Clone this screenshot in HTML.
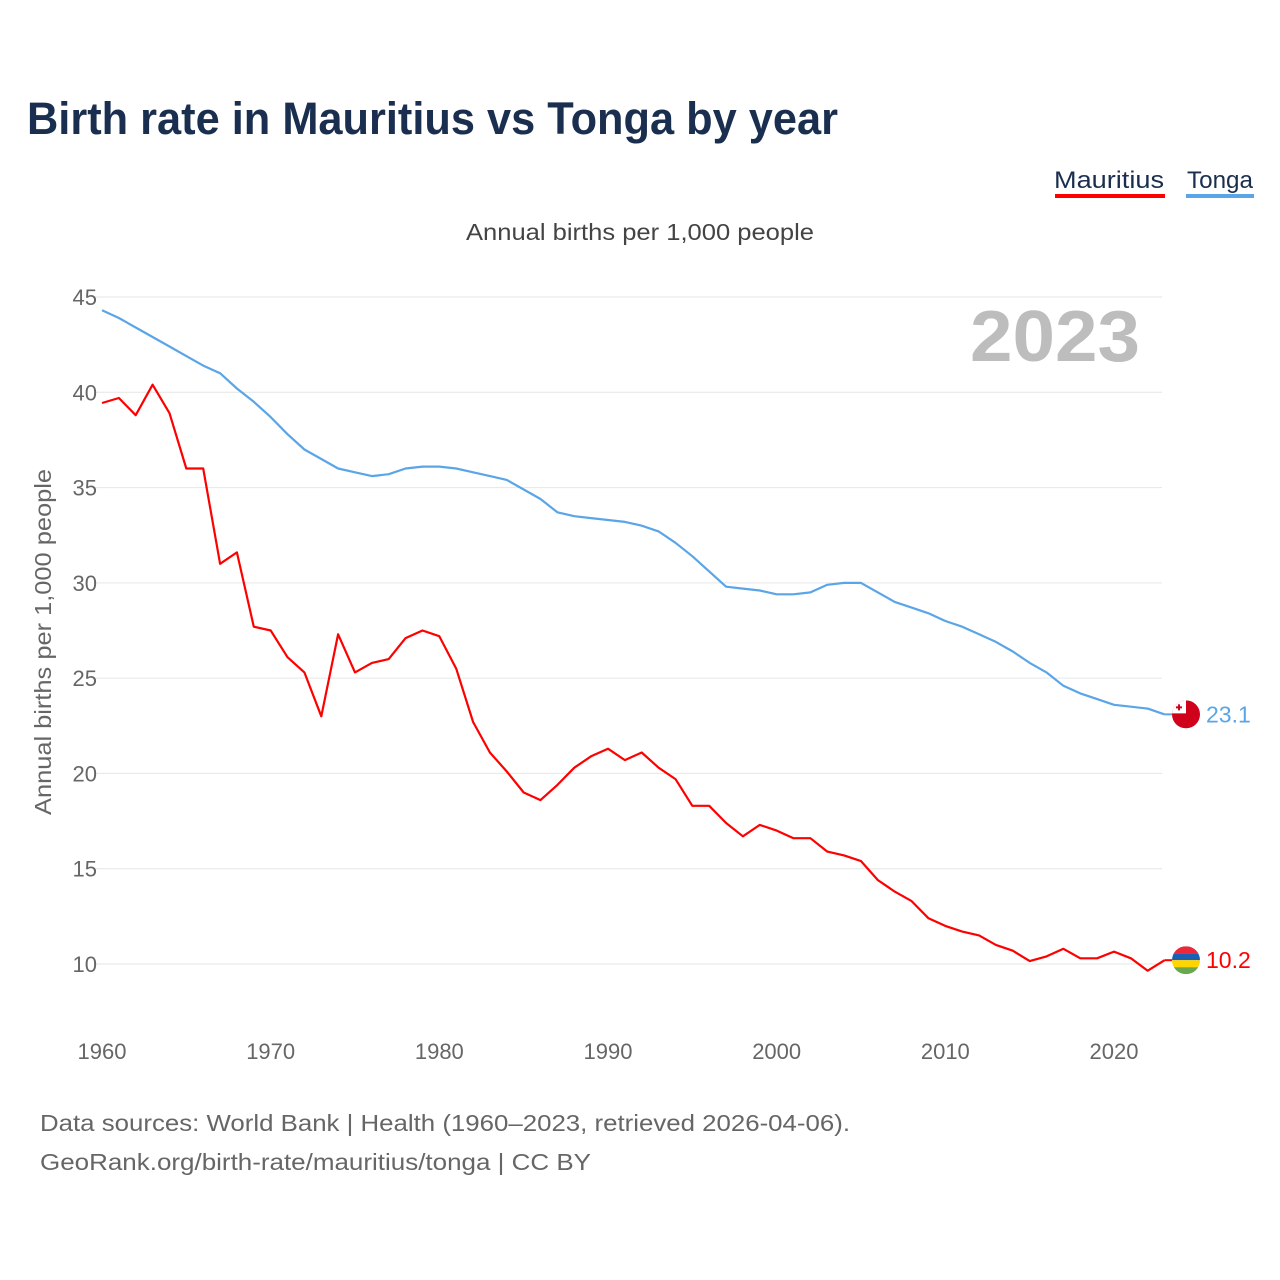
<!DOCTYPE html>
<html><head><meta charset="utf-8"><style>
body{margin:0;background:#fff;font-family:"Liberation Sans",sans-serif;}
#wrap{position:relative;width:1280px;height:1280px;overflow:hidden}
</style></head><body><div id="wrap">
<svg id="chart" width="1280" height="1280" style="font-family:'Liberation Sans',sans-serif">
<text x="27" y="134" font-size="45" font-weight="bold" fill="#1a2e4f" textLength="811" lengthAdjust="spacingAndGlyphs">Birth rate in Mauritius vs Tonga by year</text>
<g><text x="1164" y="188" font-size="24" fill="#1a2e4f" text-anchor="end" textLength="110" lengthAdjust="spacingAndGlyphs">Mauritius</text><rect x="1055" y="194" width="110" height="4" fill="#ff0000"/></g>
<g><text x="1253" y="188" font-size="24" fill="#1a2e4f" text-anchor="end" textLength="66" lengthAdjust="spacingAndGlyphs">Tonga</text><rect x="1186" y="194" width="68" height="4" fill="#5aa5e8"/></g>
<text x="640" y="240" font-size="23" fill="#444" text-anchor="middle" textLength="348" lengthAdjust="spacingAndGlyphs">Annual births per 1,000 people</text>
<text x="1140" y="361" font-size="72" font-weight="bold" fill="#bdbdbd" text-anchor="end" textLength="170" lengthAdjust="spacingAndGlyphs">2023</text>
<text transform="translate(51,642) rotate(-90)" font-size="23" fill="#666" text-anchor="middle" textLength="346" lengthAdjust="spacingAndGlyphs">Annual births per 1,000 people</text>
<g id="grid"></g><g id="lines"></g><g id="ends"></g>
<text x="40" y="1131" font-size="23" fill="#666" textLength="810" lengthAdjust="spacingAndGlyphs">Data sources: World Bank | Health (1960–2023, retrieved 2026-04-06).</text>
<text x="40" y="1170" font-size="23" fill="#666" textLength="551" lengthAdjust="spacingAndGlyphs">GeoRank.org/birth-rate/mauritius/tonga | CC BY</text>
</svg>
<script>
const years=[];for(let y=1960;y<=2023;y++)years.push(y);
const mauritius=[39.44,39.7,38.8,40.4,38.9,36.0,36.0,31.0,31.6,27.7,27.5,26.1,25.3,23.0,27.3,25.3,25.8,26.0,27.1,27.5,27.2,25.5,22.7,21.1,20.1,19.0,18.6,19.4,20.3,20.9,21.3,20.7,21.1,20.3,19.7,18.3,18.3,17.4,16.7,17.3,17.0,16.6,16.6,15.9,15.7,15.4,14.4,13.8,13.3,12.4,12.0,11.7,11.5,11.0,10.7,10.15,10.4,10.8,10.3,10.3,10.65,10.3,9.65,10.2];
const tonga=[44.3,43.9,43.4,42.9,42.4,41.9,41.4,41.0,40.2,39.5,38.7,37.8,37.0,36.5,36.0,35.8,35.6,35.7,36.0,36.1,36.1,36.0,35.8,35.6,35.4,34.9,34.4,33.7,33.5,33.4,33.3,33.2,33.0,32.7,32.1,31.4,30.6,29.8,29.7,29.6,29.4,29.4,29.5,29.9,30.0,30.0,29.5,29.0,28.7,28.4,28.0,27.7,27.3,26.9,26.4,25.8,25.3,24.6,24.2,23.9,23.6,23.5,23.4,23.1];
const yTicks=[10,15,20,25,30,35,40,45];
const xTicks=[1960,1970,1980,1990,2000,2010,2020];
const NS="http://www.w3.org/2000/svg";
const xs=y=>102+(y-1960)*(1012/60);
const ys=v=>297+(45-v)*(667/35);
function mk(t,a,p){const e=document.createElementNS(NS,t);for(const k in a)e.setAttribute(k,a[k]);p.appendChild(e);return e;}
const grid=document.getElementById('grid');
yTicks.forEach(v=>{
 const l=mk('line',{x1:95,x2:1162,y1:ys(v),y2:ys(v),stroke:'#e6e6e6','stroke-width':1},grid);
 
 
 const t=mk('text',{x:97,y:ys(v)+8,'font-size':22,fill:'#666','text-anchor':'end'},grid);t.textContent=v;
 
 
});
xTicks.forEach(v=>{
 const t=mk('text',{x:xs(v),y:1059,'font-size':22,fill:'#666','text-anchor':'middle'},grid);t.textContent=v;
 
 
});
const lines=document.getElementById('lines');
function series(data,col,name){
 const p=mk('path',{d:data.map((v,i)=>(i?'L':'M')+xs(years[i]).toFixed(1)+','+ys(v).toFixed(1)).join(''),fill:'none',stroke:col,'stroke-width':2.2,'stroke-linejoin':'round'},lines);
 
 
}
series(tonga,'#5aa5e8','tonga-line');
series(mauritius,'#ff0000','mauritius-line');
const ends=document.getElementById('ends');
function endMark(data,col,name,flag){
 const v=data[data.length-1],y=ys(v),x=1186;
 const g=mk('g',{},ends);
 
 
 mk('line',{x1:xs(2023),x2:x-14,y1:y,y2:y,stroke:col,'stroke-width':2},g);
 const id='c'+name;
 const cp=mk('clipPath',{id:id},g);mk('circle',{cx:x,cy:y,r:14},cp);
 const fg=mk('g',{'clip-path':'url(#'+id+')'},g);
 if(flag==='mu'){['#ea2839','#1a5fb4','#ffd500','#6aa84f'].forEach((c,i)=>mk('rect',{x:x-14,y:y-14+i*7,width:28,height:7,fill:c},fg));}
 else{mk('rect',{x:x-14,y:y-14,width:28,height:28,fill:'#d0021b'},fg);mk('rect',{x:x-14,y:y-14,width:14,height:13,fill:'#fff'},fg);mk('rect',{x:x-8,y:y-10,width:2,height:6,fill:'#d0021b'},fg);mk('rect',{x:x-10,y:y-8,width:6,height:2,fill:'#d0021b'},fg);}
 const t=mk('text',{x:1206,y:y+8,'font-size':23,fill:col},g);t.textContent=v.toFixed(1);
}
endMark(tonga,'#5aa5e8','tonga-end-label','to');
endMark(mauritius,'#ff0000','mauritius-end-label','mu');
</script></div></body></html>
